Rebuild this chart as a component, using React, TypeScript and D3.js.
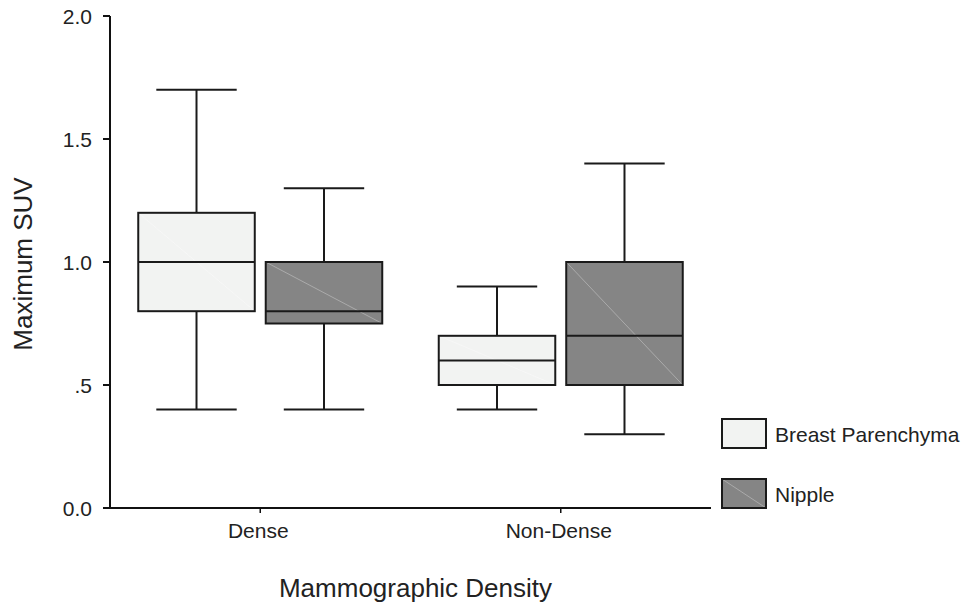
import { useEffect, useRef } from 'react';
import * as d3 from 'd3';

const categories = ['Dense', 'Non-Dense'];
const seriesNames = ['Breast Parenchyma', 'Nipple'];
// [low whisker, Q1, median, Q3, high whisker] per category
const parenchymaStats = [
  [0.4, 0.8, 1.0, 1.2, 1.7],
  [0.4, 0.5, 0.6, 0.7, 0.9],
];
const nippleStats = [
  [0.4, 0.75, 0.8, 1.0, 1.3],
  [0.3, 0.5, 0.7, 1.0, 1.4],
];
const yTicks = [0, 0.5, 1, 1.5, 2];
const yTickLabels = ['0.0', '.5', '1.0', '1.5', '2.0'];

const fills = ['#f2f3f2', '#858585'];
const FONT = '"Liberation Sans", Arial, Helvetica, sans-serif';

export default function App() {
  const ref = useRef<SVGSVGElement>(null);

  useEffect(() => {
    const svg = d3.select(ref.current);
    svg.selectAll('*').remove();

    const x = d3.scaleBand().domain(categories).range([110, 711]);
    const y = d3.scaleLinear().domain([0, 2]).range([508, 16]);
    const sub = d3.scaleBand().domain(seriesNames).range([-122, 122]).paddingInner(0.086).paddingOuter(0);

    // y axis
    svg.append('line').attr('x1', 110).attr('x2', 110).attr('y1', y(2)).attr('y2', y(0))
      .attr('stroke', '#111').attr('stroke-width', 2);
    yTicks.forEach((t, i) => {
      svg.append('line').attr('x1', 103).attr('x2', 110).attr('y1', y(t)).attr('y2', y(t))
        .attr('stroke', '#111').attr('stroke-width', 2);
      svg.append('text').attr('x', 92).attr('y', y(t)).attr('dy', '0.38em')
        .attr('text-anchor', 'end').style('font-family', FONT).style('font-size', '21px').style('fill', '#222')
        .text(yTickLabels[i]);
    });

    // x axis
    svg.append('line').attr('x1', 103).attr('x2', 711).attr('y1', y(0)).attr('y2', y(0))
      .attr('stroke', '#111').attr('stroke-width', 2);
    categories.forEach(c => {
      const cx = x(c)! + x.bandwidth() / 2;
      svg.append('line').attr('x1', cx).attr('x2', cx).attr('y1', y(0)).attr('y2', y(0) + 5)
        .attr('stroke', '#111').attr('stroke-width', 1.5);
      svg.append('text').attr('x', cx - 2).attr('y', 538).attr('text-anchor', 'middle')
        .style('font-family', FONT).style('font-size', '21px').style('fill', '#222').text(c);
    });

    svg.append('text').attr('x', (x.range()[0] + x.range()[1]) / 2 + 5).attr('y', 597)
      .attr('text-anchor', 'middle').style('font-family', FONT).style('font-size', '26px').style('fill', '#222')
      .text('Mammographic Density');
    svg.append('text').attr('transform', `translate(32,${y(1) + 2}) rotate(-90)`)
      .attr('text-anchor', 'middle').style('font-family', FONT).style('font-size', '26px').style('fill', '#222')
      .text('Maximum SUV');

    // boxes
    const allStats = [parenchymaStats, nippleStats];
    seriesNames.forEach((s, si) => {
      categories.forEach((c, ci) => {
        const [lo, q1, med, q3, hi] = allStats[si][ci];
        const cx = x(c)! + x.bandwidth() / 2;
        const bx = cx + sub(s)!;
        const bw = sub.bandwidth();
        const mid = bx + bw / 2;
        const capW = bw * 0.69;
        const g = svg.append('g');
        g.append('line').attr('x1', mid).attr('x2', mid).attr('y1', y(hi)).attr('y2', y(q3))
          .attr('stroke', '#1a1a1a').attr('stroke-width', 2);
        g.append('line').attr('x1', mid).attr('x2', mid).attr('y1', y(q1)).attr('y2', y(lo))
          .attr('stroke', '#1a1a1a').attr('stroke-width', 2);
        [hi, lo].forEach(v => {
          g.append('line').attr('x1', mid - capW / 2).attr('x2', mid + capW / 2).attr('y1', y(v)).attr('y2', y(v))
            .attr('stroke', '#1a1a1a').attr('stroke-width', 2);
        });
        g.append('rect').attr('x', bx).attr('y', y(q3)).attr('width', bw).attr('height', y(q1) - y(q3))
          .attr('fill', fills[si]).attr('stroke', 'none');
        g.append('line').attr('x1', bx).attr('y1', y(q3)).attr('x2', bx + bw).attr('y2', y(q1))
          .attr('stroke', si === 1 ? '#b4b4b4' : '#f8f8f8').attr('stroke-width', 0.8);
        g.append('rect').attr('x', bx).attr('y', y(q3)).attr('width', bw).attr('height', y(q1) - y(q3))
          .attr('fill', 'none').attr('stroke', '#1a1a1a').attr('stroke-width', 2);
        g.append('line').attr('x1', bx).attr('x2', bx + bw).attr('y1', y(med)).attr('y2', y(med))
          .attr('stroke', '#1a1a1a').attr('stroke-width', 2);
      });
    });

    // legend
    seriesNames.forEach((s, i) => {
      const ly = 419 + i * 60;
      svg.append('rect').attr('x', 722).attr('y', ly).attr('width', 44).attr('height', 29)
        .attr('fill', fills[i]).attr('stroke', 'none');
      if (i === 1) {
        svg.append('line').attr('x1', 722).attr('y1', ly).attr('x2', 766).attr('y2', ly + 29)
          .attr('stroke', '#b4b4b4').attr('stroke-width', 0.8);
      }
      svg.append('rect').attr('x', 722).attr('y', ly).attr('width', 44).attr('height', 29)
        .attr('fill', 'none').attr('stroke', '#1a1a1a').attr('stroke-width', 2);
      svg.append('text').attr('x', 775).attr('y', ly + 23)
        .style('font-family', FONT).style('font-size', '21px').style('fill', '#222').text(s);
    });
  }, []);

  return (
    <svg ref={ref} width={971} height={605}
      style={{ position: 'absolute', left: 0, top: 0, background: '#fff', display: 'block' }} />
  );
}
